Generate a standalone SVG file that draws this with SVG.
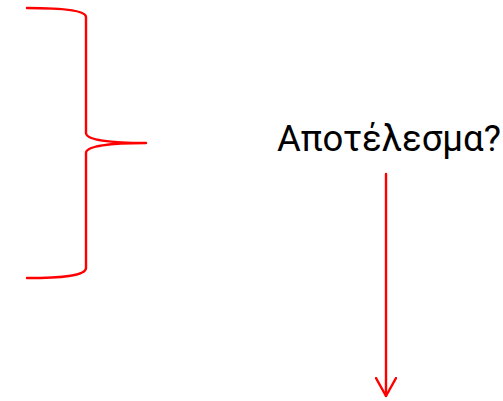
<svg xmlns="http://www.w3.org/2000/svg" width="503" height="401" viewBox="0 0 503 401">
  <style>
    .stroke { fill: none; stroke: #ff0000; stroke-width: 2.4; stroke-linecap: round; stroke-linejoin: round; }
    .label { font-family: Roboto, "Liberation Sans", sans-serif; font-size: 36.5px; fill: #000000; }
  </style>
  <defs>
    <marker id="open-arrow" viewBox="0 0 20 22" refX="19" refY="11" markerWidth="20" markerHeight="22" markerUnits="userSpaceOnUse" orient="auto">
      <path d="M1,1 L19,11 L1,21" fill="none" stroke="#ff0000" stroke-width="2.4" stroke-linecap="round" stroke-linejoin="round"/>
    </marker>
  </defs>
  <g id="brace">
    <path class="stroke" d="M27,8 C60,8 86,10 86,17 L86,133 C86,140 110,143 146,143 C110,143 86,146 86,153 L86,268 C86,276 60,278 27,278"/>
  </g>
  <g id="result">
    <text class="label" x="277" y="151">Αποτέλεσμα?</text>
  </g>
  <g id="connectors">
    <line x1="386" y1="174" x2="386" y2="396" class="stroke" marker-end="url(#open-arrow)"/>
  </g>
</svg>
